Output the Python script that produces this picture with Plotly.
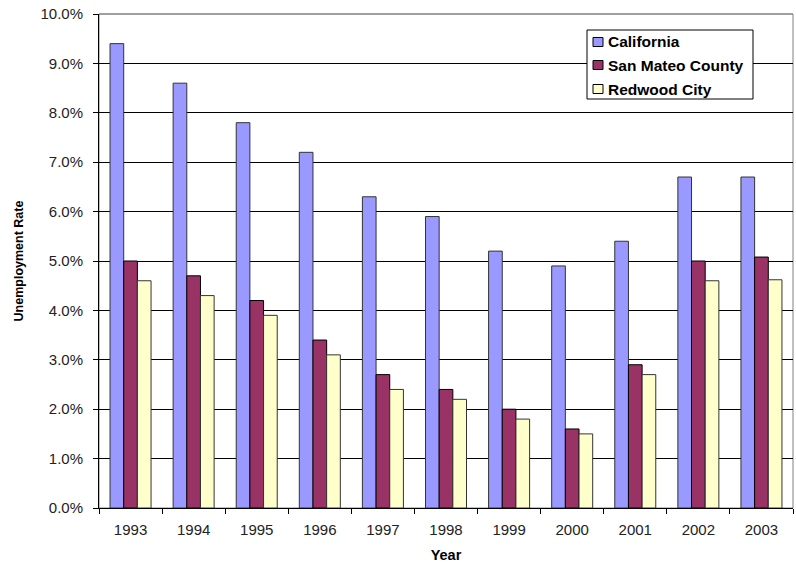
import plotly.graph_objects as go

years = ["1993", "1994", "1995", "1996", "1997", "1998", "1999", "2000", "2001", "2002", "2003"]
california = [9.4, 8.6, 7.8, 7.2, 6.3, 5.9, 5.2, 4.9, 5.4, 6.7, 6.7]
san_mateo = [5.0, 4.7, 4.2, 3.4, 2.7, 2.4, 2.0, 1.6, 2.9, 5.0, 5.08]
redwood = [4.6, 4.3, 3.9, 3.1, 2.4, 2.2, 1.8, 1.5, 2.7, 4.6, 4.62]
yticks = [0, 1, 2, 3, 4, 5, 6, 7, 8, 9, 10]

series_names = ["California", "San Mateo County", "Redwood City"]
series_values = [california, san_mateo, redwood]
series_colors = ["#9999FF", "#993366", "#FFFFCC"]
series_edges = ["#333333", "#000000", "#333333"]

W, H = 796, 565
ML, MR, MT, MB = 99, 3, 14, 57
PW, PH = W - ML - MR, H - MT - MB


def px(x):
    return (x - ML) / PW


def py(y):
    return (H - MB - y) / PH


fig = go.Figure()
for name, vals, col, edge in zip(series_names, series_values, series_colors, series_edges):
    fig.add_trace(go.Bar(x=years, y=vals, name=name, showlegend=False,
                         marker=dict(color=col, line=dict(color=edge, width=1))))

fig.update_layout(
    width=W, height=H,
    margin=dict(l=ML, r=MR, t=MT, b=MB, autoexpand=False),
    paper_bgcolor="white", plot_bgcolor="white",
    barmode="group", bargap=0.35, bargroupgap=0,
    font=dict(family="Liberation Sans, Arial", size=15, color="#000000"),
    showlegend=False,
)
fig.update_xaxes(
    automargin=False,
    showline=True, linecolor="#000000", linewidth=1,
    ticks="outside", ticklen=5, tickcolor="#000000",
    tickson="boundaries", ticklabelstandoff=8,
    title=dict(text="<b>Year</b>", font=dict(size=14.5), standoff=12),
    tickfont=dict(size=15, color="#222222"),
)
fig.update_yaxes(
    automargin=False,
    range=[0, 10], tickvals=yticks,
    ticktext=[f"{v:.1f}%" for v in yticks],
    showline=True, linecolor="#000000", linewidth=1,
    ticks="outside", ticklen=5, tickcolor="#000000", ticklabelstandoff=7,
    showgrid=True, gridcolor="#000000", gridwidth=1,
    zeroline=False,
    title=dict(text="<b>Unemployment Rate</b>", font=dict(size=12.5), standoff=14),
    tickfont=dict(size=15, color="#222222"),
)
# plot-area border (gray), including the top edge at 10%
fig.add_shape(type="rect", xref="paper", yref="paper", x0=0, x1=1, y0=0, y1=1,
              line=dict(color="#808080", width=1), layer="below")
fig.add_shape(type="line", xref="paper", yref="paper", x0=0, x1=1, y0=1, y1=1,
              line=dict(color="#808080", width=1), layer="above")

# legend box, drawn by hand in pixel positions converted to paper coordinates
fig.add_shape(type="rect", xref="paper", yref="paper",
              x0=px(587), x1=px(753), y0=py(99), y1=py(30),
              line=dict(color="#000000", width=1), fillcolor="white", layer="above")
row_y = [42, 65, 89]
for name, col, ry in zip(series_names, series_colors, row_y):
    fig.add_shape(type="rect", xref="paper", yref="paper",
                  x0=px(593), x1=px(603), y0=py(ry + 4.5), y1=py(ry - 4.5),
                  line=dict(color="#000000", width=1), fillcolor=col, layer="above")
    fig.add_annotation(xref="paper", yref="paper", x=px(606), y=py(ry),
                       xanchor="left", yanchor="middle", showarrow=False,
                       text=f"<b>{name}</b>",
                       font=dict(family="Liberation Sans, Arial", size=15.5, color="#000000"))

fig.write_html("out.html", config={"displayModeBar": False},
               post_script="document.body.style.margin='0';")
